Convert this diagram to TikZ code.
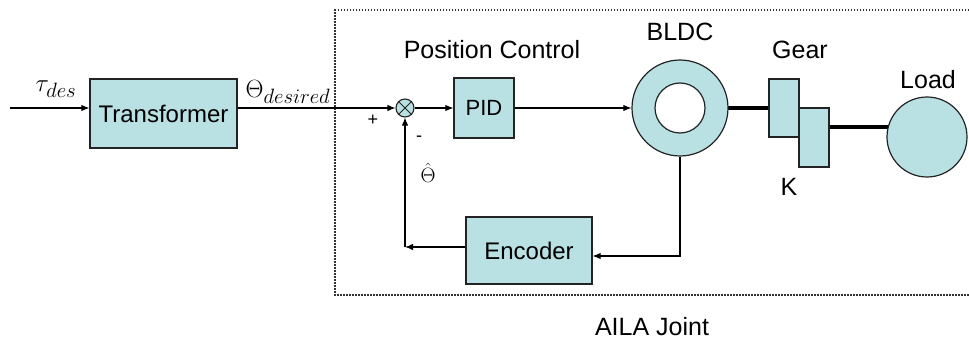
\documentclass[tikz,border=0pt]{standalone}
\usepackage{fontspec}
\setmainfont{Liberation Sans}
\usetikzlibrary{arrows.meta}
\definecolor{boxfill}{RGB}{185,224,227}
\definecolor{edge}{RGB}{35,35,35}
\begin{document}
\begin{tikzpicture}[x=1pt,y=-1pt,
  blk/.style={draw=edge, fill=boxfill, line width=1.2pt, inner sep=0pt, rectangle},
  conn/.style={line width=1.1pt, -{Latex[length=8pt,width=6.5pt]}},
  lbl/.style={font=\fontsize{25}{30}\selectfont, inner sep=0pt},
  mlbl/.style={font=\fontsize{29}{34}\selectfont, inner sep=0pt},
  shaft/.style={line width=4pt}]
\useasboundingbox (0,0) rectangle (969,342);
% dotted joint frame
\draw[line width=2pt, dash pattern=on 1.5pt off 1.5pt, draw=black!80] (969,10) -- (335,10) -- (335,295) -- (969,295);

% nodes
\node[blk, minimum width=147pt, minimum height=69pt, font=\fontsize{24}{28}\selectfont] (tr) at (163.5,113.5) {Transformer};
\node[draw=edge, fill=boxfill, circle, line width=1.1pt, minimum size=18pt, inner sep=0pt] (sum) at (405,108) {};
\node[blk, minimum width=60pt, minimum height=60pt, font=\fontsize{22}{26}\selectfont] (pid) at (484,108) {PID};
\node[blk, minimum width=126pt, minimum height=67pt, font=\fontsize{24}{28}\selectfont] (enc) at (529,250.5) {Encoder};
\coordinate (in) at (10,108);
\coordinate (fb) at (405,247);
\coordinate (s2) at (830,127);

% shafts (drawn under the parts)
\coordinate (bldcc) at (680,108);
\draw[shaft] (bldcc) -- (770,108);
\draw[shaft] (s2) -- (900,127);

\node[draw=edge, fill=boxfill, circle, line width=1.2pt, minimum size=96pt, inner sep=0pt] (bldc) at (bldcc) {};
\node[draw=edge, fill=white, circle, line width=1.2pt, minimum size=50pt, inner sep=0pt] (bldcin) at (bldcc) {};
\node[blk, minimum width=30pt, minimum height=58pt] (g1) at (784,108) {};
\node[blk, minimum width=30pt, minimum height=59pt] (g2) at (814,137.5) {};
\node[draw=edge, fill=boxfill, circle, line width=1.2pt, minimum size=80pt, inner sep=0pt] (load) at (927,137) {};

% sum cross
\draw[line width=0.9pt, draw=edge] (sum.45) -- (sum.225) (sum.135) -- (sum.315);

% connectors
\draw[conn] (in) -- (in -| tr.west);
\draw[conn] (tr.east |- in) -- (sum.west);
\draw[conn] (sum.east) -- (pid.west);
\draw[conn] (pid.east) -- (bldc.west);
\draw[conn] (bldc.south) -- (bldc.south |- 0,256) -- (enc.east |- 0,256);
\draw[conn] (enc.west |- fb) -- (fb);
\draw[conn] (fb) -- (sum.south);

% labels
\node[mlbl, font=\fontsize{32}{36}\selectfont] (tau) at (56,89) {$\tau_{des}$};
\node[mlbl] (thd) at (288,92) {$\Theta_{desired}$};
\node[lbl, font=\fontsize{18}{20}\selectfont] (plus) at (373,120) {+};
\node[lbl, font=\fontsize{18}{20}\selectfont] (minus) at (419,139) {-};
\node[mlbl, font=\fontsize{22}{26}\selectfont] (thhat) at (428,173) {$\hat{\Theta}$};
\node[lbl] (pc) at (492,50) {Position Control};
\node[lbl] (lb) at (680,32) {BLDC};
\node[lbl] (lg) at (800,50) {Gear};
\node[lbl] (lk) at (789,187) {K};
\node[lbl] (ll) at (928,80) {Load};
\node[lbl] (la) at (652,327) {AILA Joint};
\end{tikzpicture}
\end{document}
